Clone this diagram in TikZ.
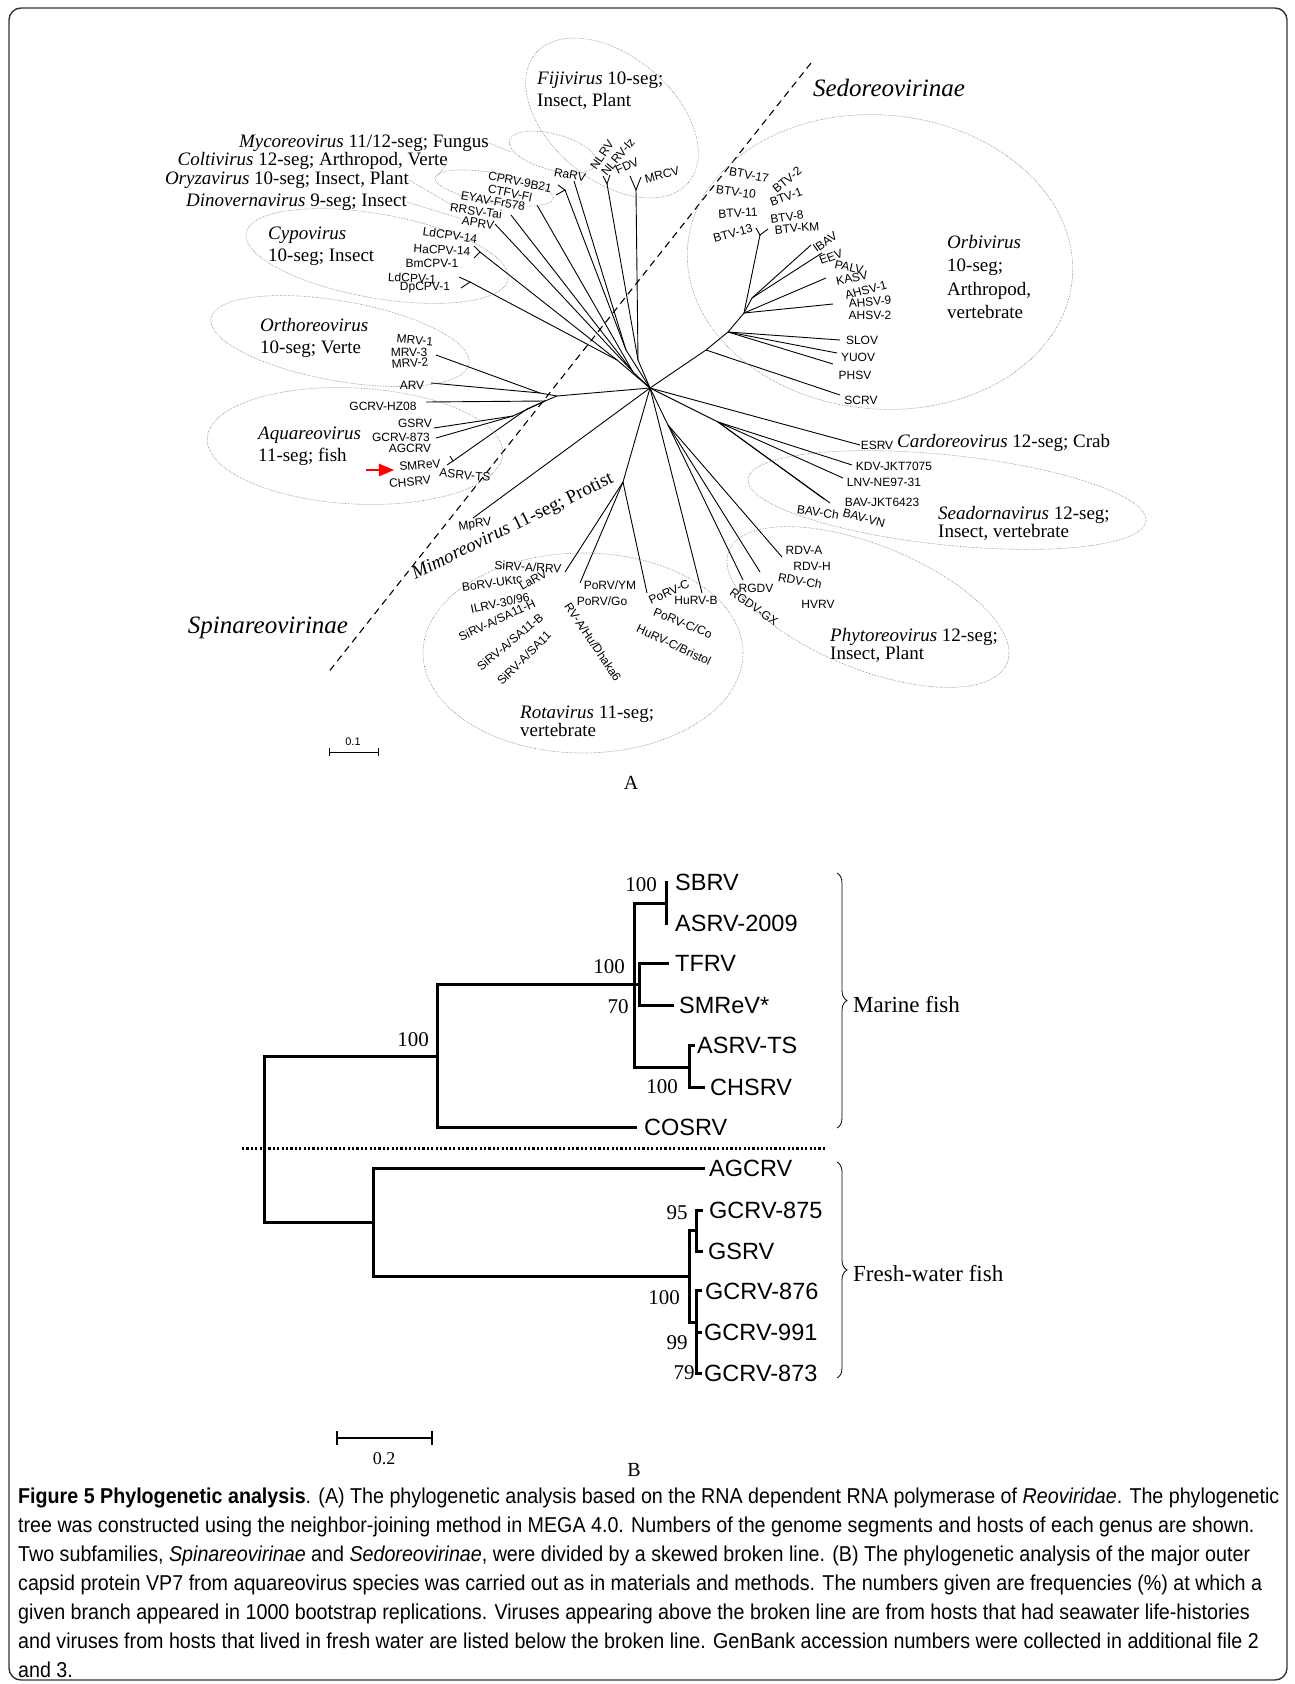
\documentclass[tikz,border=0pt]{standalone}
\usepackage{fontspec}
\setmainfont{Liberation Serif}
\setsansfont{Liberation Sans}
\newfontfamily\capfont[FakeStretch=0.915]{Liberation Sans}
\usetikzlibrary{arrows,positioning,decorations.pathreplacing}
\tikzset
{
    taxon/.style = {font=\sffamily\fontsize{12}{12}\selectfont, inner sep=0.5pt},
    genus/.style = {font=\fontsize{19}{22}\selectfont, inner sep=0pt, align=left},
    family/.style = {font=\itshape\fontsize{25}{25}\selectfont, inner sep=0pt},
    branch/.style = {line width=0.9pt},
    clade/.style = {draw=black!50, densely dotted, line width=0.6pt},
    leaf/.style = {font=\sffamily\fontsize{23.5}{23.5}\selectfont, anchor=west, inner sep=0pt},
    boot/.style = {font=\fontsize{21}{21}\selectfont, inner sep=0pt},
    twig/.style = {line width=3pt, line cap=rect}
}
\begin{document}
\begin{tikzpicture}[x=1pt, y=-1pt]
\useasboundingbox (0,0) rectangle (1295,1684);
\draw[line width=1.4pt, draw=black!80, rounded corners=12pt] (9,8) rectangle (1287,1680);

% ---------------- A ----------------
\coordinate (dashA) at (811,63);
\coordinate (dashB) at (327,674);
\draw[line width=1.1pt, dash pattern=on 7pt off 5pt] (dashA) -- (dashB);
\node[family] (sedo) at (889,88) {Sedoreovirinae};
\node[family] (spina) at (268,628) {Spinareovirinae};

\coordinate (hub) at (650,388);
\coordinate (cyA) at (470,282);
\coordinate (cyB) at (480,252);
\coordinate (cyC) at (617,360);
\coordinate (apX) at (633,372);
\coordinate (coX) at (565,190);
\coordinate (coY) at (626,350);
\coordinate (fjA) at (607,184);
\coordinate (fjB) at (636,190);
\coordinate (fjC) at (638,360);
\coordinate (tLdB) at (459,277);
\coordinate (tDp) at (461,288);
\coordinate (tHa) at (474,246);
\coordinate (tBm) at (474,258);
\coordinate (tAp) at (495,224);
\coordinate (tRr) at (511,215);
\coordinate (tEy) at (537,205);
\coordinate (tCp) at (558,185);
\coordinate (tCt) at (556,195);
\coordinate (tRa) at (574,181);
\coordinate (tNl) at (603,176);
\coordinate (tNi) at (610,175);
\coordinate (tFd) at (630,176);
\coordinate (tMr) at (641,177);
\draw[branch] (tLdB) -- (cyA) -- (tDp);
\draw[branch] (tHa) -- (cyB) -- (tBm);
\draw[branch] (cyA) -- (cyC);
\draw[branch] (cyB) -- (cyC);
\draw[branch] (cyC) -- (hub);
\draw[branch] (tAp) -- (apX);
\draw[branch] (tRr) -- (apX);
\draw[branch] (tEy) -- (apX);
\draw[branch] (apX) -- (hub);
\draw[branch] (tCp) -- (coX) -- (tCt);
\draw[branch] (coX) -- (coY);
\draw[branch] (tRa) -- (coY);
\draw[branch] (coY) -- (hub);
\draw[branch] (tNl) -- (fjA) -- (tNi);
\draw[branch] (fjA) -- (fjC);
\draw[branch] (tFd) -- (fjB) -- (tMr);
\draw[branch] (fjB) -- (fjC);
\draw[branch] (fjC) -- (hub);

\coordinate (ob1) at (706,350);
\coordinate (ob2) at (728,332);
\coordinate (ob3) at (744,313);
\coordinate (ob4) at (760,235);
\coordinate (ob5) at (752,298);
\coordinate (tBa) at (756,228);
\coordinate (tBb) at (768,229);
\coordinate (tSc) at (840,395);
\coordinate (tSl) at (840,340);
\coordinate (tYu) at (837,353);
\coordinate (tPh) at (833,364);
\coordinate (tAh) at (833,304);
\coordinate (tKa) at (826,278);
\coordinate (tEe) at (822,253);
\coordinate (tIb) at (811,245);
\draw[branch] (hub) -- (ob1) -- (ob2) -- (ob3) -- (ob4);
\draw[branch] (tBa) -- (ob4) -- (tBb);
\draw[branch] (ob1) -- (tSc);
\draw[branch] (ob2) -- (tSl);
\draw[branch] (ob2) -- (tYu);
\draw[branch] (ob2) -- (tPh);
\draw[branch] (ob3) -- (tAh);
\draw[branch] (ob3) -- (tKa);
\draw[branch] (ob3) -- (ob5);
\draw[branch] (ob5) -- (tEe);
\draw[branch] (ob5) -- (tIb);

\coordinate (aq0) at (557,396);
\coordinate (orX) at (540,393);
\coordinate (aq1) at (545,401);
\coordinate (aq2) at (513,416);
\coordinate (aq3) at (527,409);
\coordinate (smX) at (453,461);
\coordinate (tMv) at (436,355);
\coordinate (tAr) at (431,383);
\coordinate (tHz) at (426,402);
\coordinate (tGs) at (434,428);
\coordinate (tG8) at (436,438);
\coordinate (tSm) at (447,465);
\coordinate (tAs) at (450,456);
\coordinate (tMp) at (473,518);
\draw[branch] (hub) -- (aq0);
\draw[branch] (aq0) -- (orX);
\draw[branch] (orX) -- (tMv);
\draw[branch] (orX) -- (tAr);
\draw[branch] (aq0) -- (aq1);
\draw[branch] (aq1) -- (tHz);
\draw[branch] (aq1) -- (aq2);
\draw[branch] (aq2) -- (tGs);
\draw[branch] (aq2) -- (tG8);
\draw[branch] (aq1) -- (aq3);
\draw[branch] (aq3) -- (smX);
\draw[branch] (smX) -- (tSm);
\draw[branch] (smX) -- (tAs);
\draw[branch] (hub) -- (tMp);

\coordinate (rt0) at (623,482);
\coordinate (ph0) at (668,425);
\coordinate (sd0) at (718,422);
\coordinate (tSi) at (565,572);
\coordinate (tPy) at (580,583);
\coordinate (tPc) at (647,593);
\coordinate (tHb) at (702,593);
\coordinate (tRg) at (743,580);
\coordinate (tRx) at (760,572);
\coordinate (tRd) at (782,557);
\coordinate (tKd) at (852,465);
\coordinate (tLn) at (843,478);
\coordinate (tBj) at (830,503);
\coordinate (tBc) at (824,499);
\coordinate (tEs) at (860,445);
\draw[branch] (hub) -- (rt0);
\draw[branch] (rt0) -- (tSi);
\draw[branch] (rt0) -- (tPy);
\draw[branch] (rt0) -- (tPc);
\draw[branch] (hub) -- (tHb);
\draw[branch] (hub) -- (ph0);
\draw[branch] (ph0) -- (tRg);
\draw[branch] (ph0) -- (tRx);
\draw[branch] (ph0) -- (tRd);
\draw[branch] (hub) -- (sd0);
\draw[branch] (sd0) -- (tKd);
\draw[branch] (sd0) -- (tLn);
\draw[branch] (sd0) -- (tBj);
\draw[branch] (sd0) -- (tBc);
\draw[branch] (hub) -- (tEs);

% clade outlines
\coordinate (fijiC) at (612,118);
\coordinate (mycoC) at (553,152);
\coordinate (coltC) at (494,188);
\coordinate (cypoC) at (377,256);
\coordinate (orbiC) at (880,262);
\coordinate (orthC) at (340,341);
\coordinate (aquaC) at (355,446);
\coordinate (rotaC) at (583,653);
\coordinate (seadC) at (947,500);
\coordinate (phytC) at (868,607);
\draw[clade, rotate around={-40:(fijiC)}] (fijiC) ellipse (100 and 62);
\draw[clade, rotate around={-15:(mycoC)}] (mycoC) ellipse (45 and 18);
\draw[clade, rotate around={-10:(coltC)}] (coltC) ellipse (60 and 15);
\draw[clade, rotate around={-10:(cypoC)}] (cypoC) ellipse (133 and 42);
\draw[clade, rotate around={-5:(orbiC)}] (orbiC) ellipse (193 and 147);
\draw[clade, rotate around={-10:(orthC)}] (orthC) ellipse (131 and 40);
\draw[clade, rotate around={-3:(aquaC)}] (aquaC) ellipse (148 and 58);
\draw[clade] (rotaC) ellipse (160 and 100);
\draw[clade, rotate around={-6:(seadC)}] (seadC) ellipse (200 and 45);
\draw[clade, rotate around={-22:(phytC)}] (phytC) ellipse (150 and 62);

% genus labels
\node[genus, anchor=west] (fiji) at (537,91) {\textit{Fijivirus} 10-seg;\\Insect, Plant};
\node[genus, anchor=east] (myco) at (489,143) {\textit{Mycoreovirus} 11/12-seg; Fungus};
\node[genus, anchor=east] (colt) at (448,161) {\textit{Coltivirus} 12-seg; Arthropod, Verte};
\node[genus, anchor=east] (oryz) at (409,180) {\textit{Oryzavirus} 10-seg; Insect, Plant};
\node[genus, anchor=east] (dino) at (407,202) {\textit{Dinovernavirus} 9-seg; Insect};
\node[genus, anchor=west] (cypo) at (268,246) {\textit{Cypovirus}\\10-seg; Insect};
\node[genus, anchor=west, font=\fontsize{19}{23.3}\selectfont] (orbi) at (947,277) {\textit{Orbivirus}\\10-seg;\\Arthropod,\\vertebrate};
\node[genus, anchor=west] (orth) at (260,338) {\textit{Orthoreovirus}\\10-seg; Verte};
\node[genus, anchor=west] (aqua) at (258,446) {\textit{Aquareovirus}\\11-seg; fish};
\node[genus, rotate=26] (mimo) at (513,527) {\textit{Mimoreovirus} 11-seg; Protist};
\node[genus, anchor=west, font=\fontsize{19}{18}\selectfont] (rota) at (520,721) {\textit{Rotavirus} 11-seg;\\vertebrate};
\node[genus, anchor=west] (card) at (897,443) {\textit{Cardoreovirus} 12-seg; Crab};
\node[genus, anchor=west, font=\fontsize{19}{18}\selectfont] (sead) at (938,523) {\textit{Seadornavirus} 12-seg;\\Insect, vertebrate};
\node[genus, anchor=west, font=\fontsize{19}{18}\selectfont] (phyt) at (830,645) {\textit{Phytoreovirus} 12-seg;\\Insect, Plant};
\draw[clade] (myco.east) -- (mycoC -| 511,0);
\draw[clade] (colt.east) -- (438,176);
\draw[clade] (oryz.east) -- (452,205);
\draw[clade] (dino.east) -- (462,219);

% taxon labels
\node[taxon, rotate=-12] (cprv) at (520,182) {CPRV-9B21};
\node[taxon, rotate=-12] (ctfv) at (510,193) {CTFV-Fl};
\node[taxon, rotate=-10] (eyav) at (493,201) {EYAV-Fr578};
\node[taxon, rotate=-8] (rrsv) at (476,211) {RRSV-Tai};
\node[taxon, rotate=-8] (aprv) at (478,223) {APRV};
\node[taxon, rotate=-8] (ldcpvA) at (450,235) {LdCPV-14};
\node[taxon, rotate=-3] (hacpv) at (442,250) {HaCPV-14};
\node[taxon] (bmcpv) at (432,263) {BmCPV-1};
\node[taxon, rotate=-3] (ldcpvB) at (412,278) {LdCPV-1};
\node[taxon] (dpcpv) at (425,288) {DpCPV-1};
\node[taxon, rotate=-10] (rarv) at (570,175) {RaRV};
\node[taxon, rotate=55] (nlrv) at (602,155) {NLRV};
\node[taxon, rotate=50] (nlrviz) at (618,157) {NLRV-Iz};
\node[taxon, rotate=25] (fdv) at (627,166) {FDV};
\node[taxon, rotate=15] (mrcv) at (662,175) {MRCV};

\node[taxon, rotate=-10] (btvA) at (749,175) {BTV-17};
\node[taxon, rotate=-8] (btvB) at (736,192) {BTV-10};
\node[taxon, rotate=3] (btvC) at (738,213) {BTV-11};
\node[taxon, rotate=15] (btvD) at (733,233) {BTV-13};
\node[taxon, rotate=40] (btvE) at (787,180) {BTV-2};
\node[taxon, rotate=20] (btvF) at (786,197) {BTV-1};
\node[taxon, rotate=8] (btvG) at (787,217) {BTV-8};
\node[taxon, rotate=5] (btvH) at (797,228) {BTV-KM};
\node[taxon, rotate=35] (ibav) at (825,242) {IBAV};
\node[taxon, rotate=20] (eev) at (831,257) {EEV};
\node[taxon, rotate=-12] (palv) at (849,267) {PALV};
\node[taxon, rotate=12] (kasv) at (852,278) {KASV};
\node[taxon, rotate=15] (ahsvA) at (866,290) {AHSV-1};
\node[taxon, rotate=5] (ahsvB) at (870,302) {AHSV-9};
\node[taxon] (ahsvC) at (870,315) {AHSV-2};
\node[taxon] (slov) at (862,340) {SLOV};
\node[taxon] (yuov) at (858,357) {YUOV};
\node[taxon] (phsv) at (855,375) {PHSV};
\node[taxon] (scrv) at (861,400) {SCRV};

\node[taxon, rotate=-5] (mrvA) at (415,340) {MRV-1};
\node[taxon] (mrvB) at (409,352) {MRV-3};
\node[taxon, rotate=5] (mrvC) at (410,363) {MRV-2};
\node[taxon] (arv) at (412,385) {ARV};
\node[taxon] (hz08) at (383,406) {GCRV-HZ08};
\node[taxon] (gsrvA) at (415,423) {GSRV};
\node[taxon] (gcrvA) at (401,437) {GCRV-873};
\node[taxon] (agcrvA) at (410,448) {AGCRV};
\node[taxon, rotate=5] (smrevA) at (420,465) {SMReV};
\node[taxon, rotate=5] (chsrvA) at (410,482) {CHSRV};
\node[taxon, rotate=-5] (asrvA) at (465,475) {ASRV-TS};
\node[taxon, rotate=8] (mprv) at (475,525) {MpRV};
\coordinate (arrA) at (366,470);
\coordinate (arrB) at (394,470);
\draw[red, line width=2.6pt, -triangle 45] (arrA) -- (arrB);

\node[taxon, rotate=-3] (sirv) at (528,567) {SiRV-A/RRV};
\node[taxon, rotate=8] (borv) at (492,583) {BoRV-UKtc};
\node[taxon, rotate=30] (larv) at (533,580) {LaRV};
\node[taxon, rotate=12] (ilrv) at (500,603) {ILRV-30/96};
\node[taxon, rotate=25] (sa11h) at (497,620) {SiRV-A/SA11-H};
\node[taxon, rotate=40] (sa11b) at (510,642) {SiRV-A/SA11-B};
\node[taxon, rotate=45] (sa11) at (524,658) {SiRV-A/SA11};
\node[taxon] (porvym) at (610,585) {PoRV/YM};
\node[taxon] (porvgo) at (602,601) {PoRV/Go};
\node[taxon, rotate=-56] (dhaka) at (593,642) {RV-A/Hu/Dhaka6};
\node[taxon, rotate=25] (porvc) at (669,592) {PoRV-C};
\node[taxon] (hurvb) at (696,600) {HuRV-B};
\node[taxon, rotate=-22] (porvco) at (683,623) {PoRV-C/Co};
\node[taxon, rotate=-25] (hurvc) at (674,645) {HuRV-C/Bristol};

\node[taxon] (esrv) at (877,445) {ESRV};
\node[taxon] (kdv) at (894,466) {KDV-JKT7075};
\node[taxon] (lnv) at (884,482) {LNV-NE97-31};
\node[taxon] (bavj) at (882,502) {BAV-JKT6423};
\node[taxon, rotate=-8] (bavch) at (818,512) {BAV-Ch};
\node[taxon, rotate=-15] (bavvn) at (864,518) {BAV-VN};
\node[taxon] (rdva) at (804,550) {RDV-A};
\node[taxon] (rdvh) at (812,566) {RDV-H};
\node[taxon, rotate=-10] (rdvch) at (800,581) {RDV-Ch};
\node[taxon] (hvrv) at (818,604) {HVRV};
\node[taxon] (rgdv) at (756,588) {RGDV};
\node[taxon, rotate=-35] (rgdvgx) at (754,607) {RGDV-GX};

\coordinate (sbA1) at (329,752);
\coordinate (sbA2) at (378,752);
\draw[line width=1pt] (sbA1) -- (sbA2);
\draw[line width=1pt] ([yshift=4pt]sbA1) -- ([yshift=-4pt]sbA1);
\draw[line width=1pt] ([yshift=4pt]sbA2) -- ([yshift=-4pt]sbA2);
\node[taxon, font=\sffamily\fontsize{11}{11}\selectfont] (sbAlab) at (353,742) {0.1};
\node[font=\fontsize{20}{20}\selectfont] (panelA) at (631,783) {A};

% ---------------- B ----------------
\coordinate (sepA) at (242,1148);
\coordinate (sepB) at (826,1148);
\draw[line width=3pt, dash pattern=on 2.2pt off 2.2pt] (sepA) -- (sepB);

\coordinate (bRoot) at (264,1139);
\coordinate (bSea) at (437,1056);
\coordinate (bFresh) at (373,1222);
\coordinate (bMar) at (634,984);
\coordinate (bSB) at (666,903);
\coordinate (bTF) at (639,984);
\coordinate (bAC) at (689,1067);
\coordinate (bGC) at (689,1276);
\coordinate (bG1) at (696,1230);
\coordinate (bG2) at (696,1322);
\coordinate (sbrvTip) at (666,882);
\coordinate (asrv9Tip) at (666,923);
\coordinate (tfrvTip) at (667,963);
\coordinate (smrevTip) at (672,1005);
\coordinate (asrvtsTip) at (693,1045);
\coordinate (chsrvTip) at (703,1087);
\coordinate (cosrvTip) at (635,1127);
\coordinate (agcrvTip) at (703,1168);
\coordinate (g875Tip) at (701,1210);
\coordinate (gsrvTip) at (701,1251);
\coordinate (g876Tip) at (700,1290);
\coordinate (g991Tip) at (700,1332);
\coordinate (g873Tip) at (700,1373);
\draw[twig] (bRoot) |- (bSea);
\draw[twig] (bRoot) |- (bFresh);
\draw[twig] (bSea) |- (bMar);
\draw[twig] (bSea) |- (cosrvTip);
\draw[twig] (bMar) |- (bSB);
\draw[twig] (bMar) |- (bAC);
\draw[twig] (bMar) -- (bTF);
\draw[twig] (bSB) -- (sbrvTip);
\draw[twig] (bSB) -- (asrv9Tip);
\draw[twig] (bTF) |- (tfrvTip);
\draw[twig] (bTF) |- (smrevTip);
\draw[twig] (bAC) |- (asrvtsTip);
\draw[twig] (bAC) |- (chsrvTip);
\draw[twig] (bFresh) |- (agcrvTip);
\draw[twig] (bFresh) |- (bGC);
\draw[twig] (bGC) |- (bG1);
\draw[twig] (bGC) |- (bG2);
\draw[twig] (bG1) |- (g875Tip);
\draw[twig] (bG1) |- (gsrvTip);
\draw[twig] (bG2) |- (g876Tip);
\draw[twig] (bG2) |- (g991Tip);
\draw[twig] (bG2) |- (g873Tip);

\node[leaf] (sbrv) at (675,882) {SBRV};
\node[leaf] (asrv9) at (675,923) {ASRV-2009};
\node[leaf] (tfrv) at (675,963) {TFRV};
\node[leaf] (smrev) at (679,1005) {SMReV*};
\node[leaf] (asrvts) at (697,1045) {ASRV-TS};
\node[leaf] (chsrv) at (710,1087) {CHSRV};
\node[leaf] (cosrv) at (644,1127) {COSRV};
\node[leaf] (agcrv) at (709,1168) {AGCRV};
\node[leaf] (g875) at (709,1210) {GCRV-875};
\node[leaf] (gsrv) at (708,1251) {GSRV};
\node[leaf] (g876) at (705,1291) {GCRV-876};
\node[leaf] (g991) at (704,1332) {GCRV-991};
\node[leaf] (g873) at (704,1373) {GCRV-873};

\node[boot] (bs1) at (413,1040) {100};
\node[boot] (bs2) at (609,967) {100};
\node[boot] (bs3) at (618,1007) {70};
\node[boot] (bs4) at (641,885) {100};
\node[boot] (bs5) at (662,1087) {100};
\node[boot] (bs6) at (677,1213) {95};
\node[boot] (bs7) at (664,1298) {100};
\node[boot] (bs8) at (677,1343) {99};
\node[boot] (bs9) at (684,1373) {79};

\coordinate (mTop) at (837,873);
\coordinate (mBot) at (837,1128);
\coordinate (fTop) at (837,1162);
\coordinate (fBot) at (837,1378);
\draw[decorate, decoration={brace, amplitude=10pt}, line width=0.8pt] (mTop) -- (mBot);
\draw[decorate, decoration={brace, amplitude=10pt}, line width=0.8pt] (fTop) -- (fBot);
\node[anchor=west, inner sep=0pt, font=\fontsize{23}{23}\selectfont] (marine) at (853,1005) {Marine fish};
\node[anchor=west, inner sep=0pt, font=\fontsize{23}{23}\selectfont] (fresh) at (853,1273) {Fresh-water fish};

\coordinate (sbB1) at (337,1438);
\coordinate (sbB2) at (432,1438);
\draw[line width=1.3pt] (sbB1) -- (sbB2);
\draw[line width=1.3pt] ([yshift=7pt]sbB1) -- ([yshift=-7pt]sbB1);
\draw[line width=1.3pt] ([yshift=7pt]sbB2) -- ([yshift=-7pt]sbB2);
\node[font=\fontsize{18}{18}\selectfont] (sbBlab) at (384,1459) {0.2};
\node[font=\fontsize{20}{20}\selectfont] (panelB) at (634,1470) {B};

% ---------------- caption ----------------
\node[anchor=north west, inner sep=0pt, align=left, font=\capfont\fontsize{21.5}{29}\selectfont] (caption) at (18,1488)
{\textbf{Figure 5 Phylogenetic analysis}. (A) The phylogenetic analysis based on the RNA dependent RNA polymerase of \textit{Reoviridae}. The phylogenetic\\
tree was constructed using the neighbor-joining method in MEGA 4.0. Numbers of the genome segments and hosts of each genus are shown.\\
Two subfamilies, \textit{Spinareovirinae} and \textit{Sedoreovirinae}, were divided by a skewed broken line. (B) The phylogenetic analysis of the major outer\\
capsid protein VP7 from aquareovirus species was carried out as in materials and methods. The numbers given are frequencies (\%) at which a\\
given branch appeared in 1000 bootstrap replications. Viruses appearing above the broken line are from hosts that had seawater life-histories\\
and viruses from hosts that lived in fresh water are listed below the broken line. GenBank accession numbers were collected in additional file 2\\
and 3.};
\end{tikzpicture}
\end{document}
